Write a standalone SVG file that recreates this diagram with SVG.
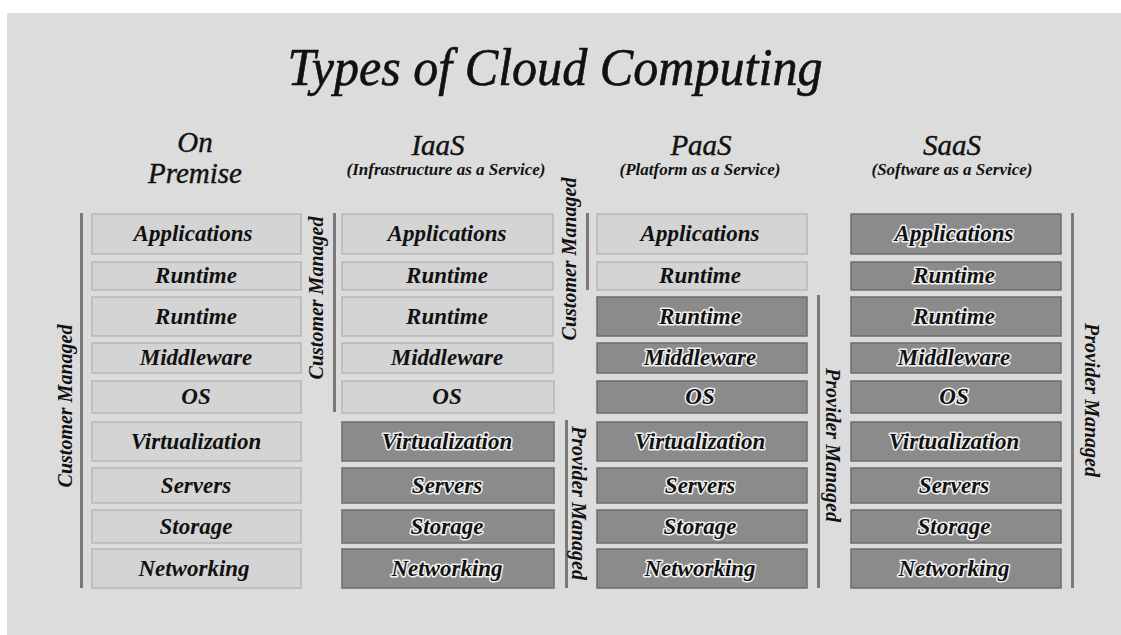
<svg xmlns="http://www.w3.org/2000/svg" width="1121" height="635" viewBox="0 0 1121 635">
<style>
.ser{font-family:"Liberation Serif","Times New Roman",serif;font-style:italic;fill:#111}
.title{font-size:52px;stroke:#111;stroke-width:0.6}
.hdr{font-size:29px;stroke:#111;stroke-width:0.4}
.sub{font-size:17px;font-weight:bold}
.lbl{font-size:23px;font-weight:bold;text-anchor:middle}
.side{font-size:20px;font-weight:bold;text-anchor:middle}
.lt{fill:#d4d4d4;stroke:#b7b7b7;stroke-width:1.5}
.dk{fill:#8b8b8b;stroke:#6c6c6c;stroke-width:1.5}
.halo{stroke:#f2f2f2;stroke-width:3;stroke-linejoin:round;paint-order:stroke}
.bar{fill:#7a7a7a}
</style>
<rect x="0" y="0" width="1121" height="635" fill="#ffffff"/>
<rect x="7" y="13" width="1114" height="622" fill="#dcdcdc"/>
<text class="ser title" x="555" y="85" text-anchor="middle" textLength="535" lengthAdjust="spacingAndGlyphs">Types of Cloud Computing</text>
<g id="hdr-onprem" class="ser hdr" text-anchor="middle">
<text x="195" y="152">On</text>
<text x="195" y="183">Premise</text>
</g>
<g id="hdr-iaas" class="ser" text-anchor="middle">
<text class="hdr" x="438" y="155">IaaS</text>
<text class="sub" x="446" y="175">(Infrastructure as a Service)</text>
</g>
<g id="hdr-paas" class="ser" text-anchor="middle">
<text class="hdr" x="701" y="155">PaaS</text>
<text class="sub" x="700" y="175">(Platform as a Service)</text>
</g>
<g id="hdr-saas" class="ser" text-anchor="middle">
<text class="hdr" x="952" y="155">SaaS</text>
<text class="sub" x="952" y="175">(Software as a Service)</text>
</g>
<g id="col-onprem">
<rect class="lt" x="92" y="214" width="209" height="40"/>
<rect class="lt" x="92" y="262" width="209" height="28"/>
<rect class="lt" x="92" y="297" width="209" height="39"/>
<rect class="lt" x="92" y="343" width="209" height="30"/>
<rect class="lt" x="92" y="381" width="209" height="32"/>
<rect class="lt" x="92" y="422" width="209" height="39"/>
<rect class="lt" x="92" y="468" width="209" height="35"/>
<rect class="lt" x="92" y="510" width="209" height="33"/>
<rect class="lt" x="92" y="549" width="209" height="39"/>
<g class="ser lbl">
<text x="193" y="241">Applications</text>
<text x="196" y="283">Runtime</text>
<text x="196" y="324">Runtime</text>
<text x="196" y="365">Middleware</text>
<text x="196" y="404">OS</text>
<text x="196" y="449">Virtualization</text>
<text x="196" y="493">Servers</text>
<text x="196" y="534">Storage</text>
<text x="194" y="576">Networking</text>
</g>
</g>
<g id="col-iaas">
<rect class="lt" x="342" y="214" width="211" height="40"/>
<rect class="lt" x="342" y="262" width="211" height="28"/>
<rect class="lt" x="342" y="297" width="211" height="39"/>
<rect class="lt" x="342" y="343" width="211" height="30"/>
<rect class="lt" x="342" y="381" width="212" height="32"/>
<rect class="dk" x="342" y="422" width="212" height="39"/>
<rect class="dk" x="342" y="468" width="212" height="35"/>
<rect class="dk" x="342" y="510" width="212" height="33"/>
<rect class="dk" x="342" y="549" width="212" height="39"/>
<g class="ser lbl">
<text x="447" y="241">Applications</text>
<text x="447" y="283">Runtime</text>
<text x="447" y="324">Runtime</text>
<text x="447" y="365">Middleware</text>
<text x="447" y="404">OS</text>
<text class="halo" x="447" y="449">Virtualization</text>
<text class="halo" x="447" y="493">Servers</text>
<text class="halo" x="447" y="534">Storage</text>
<text class="halo" x="447" y="576">Networking</text>
</g>
</g>
<g id="col-paas">
<rect class="lt" x="597" y="214" width="210" height="40"/>
<rect class="lt" x="597" y="262" width="210" height="28"/>
<rect class="dk" x="597" y="297" width="210" height="39"/>
<rect class="dk" x="597" y="343" width="210" height="30"/>
<rect class="dk" x="597" y="381" width="210" height="32"/>
<rect class="dk" x="597" y="422" width="210" height="39"/>
<rect class="dk" x="597" y="468" width="210" height="35"/>
<rect class="dk" x="597" y="510" width="210" height="33"/>
<rect class="dk" x="597" y="549" width="210" height="39"/>
<g class="ser lbl">
<text x="700" y="241">Applications</text>
<text x="700" y="283">Runtime</text>
<text class="halo" x="700" y="324">Runtime</text>
<text class="halo" x="700" y="365">Middleware</text>
<text class="halo" x="700" y="404">OS</text>
<text class="halo" x="700" y="449">Virtualization</text>
<text class="halo" x="700" y="493">Servers</text>
<text class="halo" x="700" y="534">Storage</text>
<text class="halo" x="700" y="576">Networking</text>
</g>
</g>
<g id="col-saas">
<rect class="dk" x="851" y="214" width="210" height="40"/>
<rect class="dk" x="851" y="262" width="210" height="28"/>
<rect class="dk" x="851" y="297" width="210" height="39"/>
<rect class="dk" x="851" y="343" width="210" height="30"/>
<rect class="dk" x="851" y="381" width="210" height="32"/>
<rect class="dk" x="851" y="422" width="210" height="39"/>
<rect class="dk" x="851" y="468" width="210" height="35"/>
<rect class="dk" x="851" y="510" width="210" height="33"/>
<rect class="dk" x="851" y="549" width="210" height="39"/>
<g class="ser lbl halo">
<text x="954" y="241">Applications</text>
<text x="954" y="283">Runtime</text>
<text x="954" y="324">Runtime</text>
<text x="954" y="365">Middleware</text>
<text x="954" y="404">OS</text>
<text x="954" y="449">Virtualization</text>
<text x="954" y="493">Servers</text>
<text x="954" y="534">Storage</text>
<text x="954" y="576">Networking</text>
</g>
</g>
<g id="brackets">
<rect class="bar" x="80" y="213" width="3" height="375"/>
<rect class="bar" x="333" y="213" width="3" height="199"/>
<rect class="bar" x="565" y="420" width="3" height="168"/>
<rect class="bar" x="586" y="213" width="3" height="77"/>
<rect class="bar" x="817" y="295" width="3" height="293"/>
<rect class="bar" x="1071" y="213" width="3" height="375"/>
<g class="ser side">
<text transform="translate(72,406) rotate(-90)">Customer Managed</text>
<text transform="translate(323,298) rotate(-90)">Customer Managed</text>
<text transform="translate(576,259) rotate(-90)">Customer Managed</text>
<text transform="translate(572,503) rotate(90)">Provider Managed</text>
<text transform="translate(826,445) rotate(90)">Provider Managed</text>
<text transform="translate(1085,400) rotate(90)">Provider Managed</text>
</g>
</g>
</svg>
